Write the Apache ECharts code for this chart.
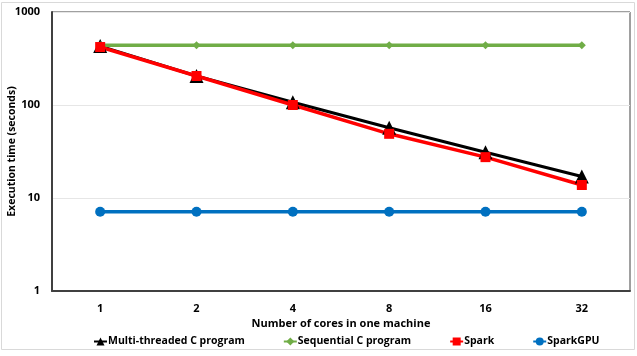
<!DOCTYPE html>
<html><head><meta charset="utf-8">
<script src="https://cdn.jsdelivr.net/npm/echarts@6/dist/echarts.min.js"></script>
<style>html,body{margin:0;padding:0;background:#fff}#c{width:637px;height:356px}</style>
</head><body><div id="c"></div>
<script>
const categories = ['1','2','4','8','16','32'];
const multiThreaded = [430, 205, 107, 57, 31, 17];
const sequential = [440, 440, 440, 440, 440, 440];
const spark = [420, 205, 100, 49, 27.5, 13.8];
const sparkGPU = [7.1, 7.1, 7.1, 7.1, 7.1, 7.1];
const yTicks = [1, 10, 100, 1000];

const font = '"Open Sans", "Liberation Sans", sans-serif';
const chart = echarts.init(document.getElementById('c'), null, {renderer:'canvas'});
function s(name, data, color, symbol, size, lw){
  return {name, type:'line', data, color, symbol, symbolSize:size, showSymbol:true,
    lineStyle:{color, width:lw}, itemStyle:{color}, animation:false, z: 2};
}
chart.setOption({
  animation:false,
  textStyle:{fontFamily:font},
  graphic:[{type:'rect', shape:{x:1.5,y:2.5,width:633,height:347}, style:{fill:'none', stroke:'#d9d9d9', lineWidth:1}, silent:true}],
  grid:{left:52, right:7, top:12, bottom:65, show:true, borderColor:'#404040', borderWidth:1, containLabel:false, outerBoundsMode:'none'},
  xAxis:{type:'category', data:categories, boundaryGap:true,
    name:'Number of cores in one machine', nameLocation:'middle', nameGap:27, nameMoveOverlap:false,
    nameTextStyle:{fontFamily:font, fontWeight:'bold', fontSize:11, color:'#000'},
    axisLine:{show:true, lineStyle:{color:'#404040', width:2}},
    axisTick:{show:false},
    axisLabel:{fontFamily:font, fontWeight:'bold', fontSize:11, color:'#000', margin:12},
    splitLine:{show:false}},
  yAxis:{type:'log', logBase:10, min:1, max:1000,
    name:'Execution time (seconds)', nameLocation:'middle', nameGap:34, nameRotate:90, nameMoveOverlap:false,
    nameTextStyle:{fontFamily:font, fontWeight:'bold', fontSize:10.5, color:'#000'},
    axisLine:{show:true, lineStyle:{color:'#404040', width:2}},
    axisTick:{show:false},
    axisLabel:{fontFamily:font, fontWeight:'bold', fontSize:11, color:'#000', margin:12,
      formatter:v=>String(yTicks.find(t=>Math.abs(t-v)<1e-6*t) ?? Math.round(v))},
    splitLine:{show:true, lineStyle:{color:'#e6e6e6', width:1}}},
  legend:{bottom:4, left:88, itemGap:38, itemWidth:13, itemHeight:10,
    textStyle:{fontFamily:font, fontWeight:'bold', fontSize:10.5, color:'#000', padding:[0,0,0,-4]},
    data:['Multi-threaded C program','Sequential C program','Spark','SparkGPU']},
  series:[
    s('Multi-threaded C program', multiThreaded, '#000000', 'triangle', 14, 3),
    s('Sequential C program', sequential, '#70ad47', 'diamond', 8, 3.5),
    s('Spark', spark, '#ff0000', 'rect', 10, 3.5),
    s('SparkGPU', sparkGPU, '#0070c0', 'circle', 10, 3.5)
  ]
});
</script></body></html>
